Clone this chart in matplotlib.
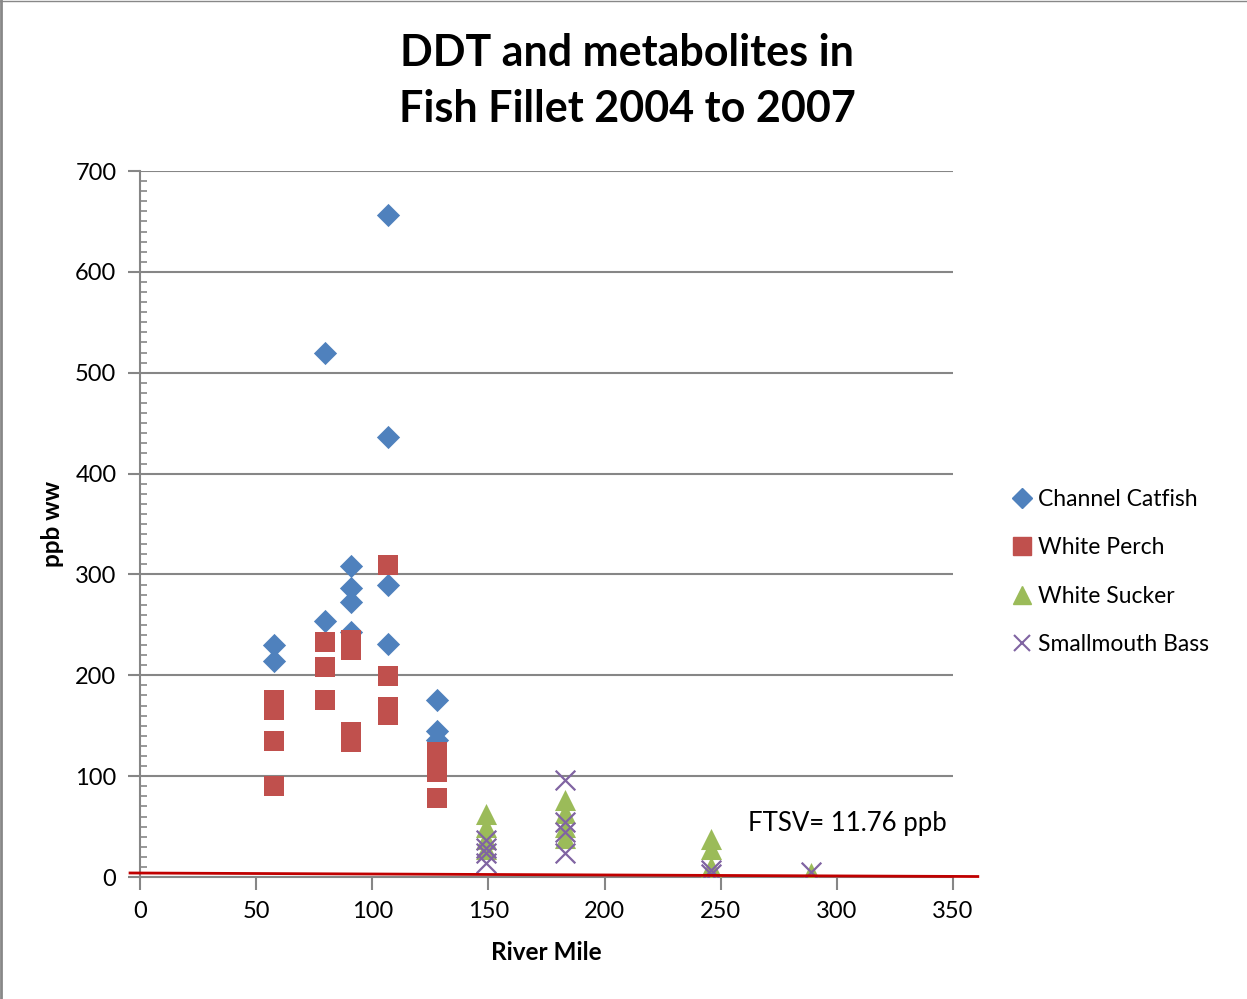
import matplotlib.pyplot as plt
from matplotlib.ticker import MultipleLocator
from matplotlib.lines import Line2D

plt.rcParams['font.family'] = ['Lato', 'DejaVu Sans']

# Channel Catfish
catfish_x = [57.7, 57.7, 79.6, 79.6, 90.8, 90.8, 90.8, 90.8, 106.8, 106.8, 106.8, 106.8,
             127.9, 127.9, 127.9]
catfish_y = [230, 214, 520, 254, 308, 287, 273, 243, 656, 436, 290, 231, 176, 145, 136]

# White Perch
perch_x = [57.7, 57.7, 57.7, 57.7, 79.6, 79.6, 79.6, 90.8, 90.8, 90.8, 90.8,
           106.8, 106.8, 106.8, 106.8, 127.9, 127.9, 127.9, 127.9]
perch_y = [176, 166, 135, 90, 233, 208, 176, 235, 225, 144, 134, 309, 199, 169, 161,
           124, 111, 104, 78]

# White Sucker
sucker_x = [149, 149, 149, 149, 183, 183, 183, 183, 245.8, 245.8, 245.8, 288.9]
sucker_y = [62, 50, 38, 28, 76, 63, 50, 39, 38, 28, 10, 4]

# Smallmouth Bass
bass_x = [149, 149, 149, 149, 183, 183, 183, 183, 245.8, 245.8, 288.9]
bass_y = [37, 29, 24, 14, 96, 55, 45, 24, 7, 3, 5]

# FTSV reference line (drawn shape in the original)
ftsv_x = [-4.3, 360.7]
ftsv_y = [4, 0.5]
ftsv_label = "FTSV= 11.76 ppb"

fig = plt.figure(figsize=(12.47, 9.99), dpi=100)
ax = fig.add_axes([0.1123, 0.1221, 0.6519, 0.7067])

grid_col = '#868686'
ax.scatter(catfish_x, catfish_y, marker='D', s=140, color='#4F81BD', linewidths=0, zorder=3)
ax.scatter(perch_x, perch_y, marker='s', s=210, color='#C0504D', linewidths=0, zorder=3)
ax.scatter(sucker_x, sucker_y, marker='^', s=230, color='#9BBB59', linewidths=0, zorder=3)
ax.scatter(bass_x, bass_y, marker='x', s=200, color='#8064A2', linewidths=1.6, zorder=4)

ax.plot(ftsv_x, ftsv_y, color='#C00000', lw=2, clip_on=False, zorder=5)
ax.text(304.6, 53, ftsv_label, fontsize=18.5, ha='center', va='center')

ax.set_xlim(0, 350)
ax.set_ylim(0, 700)
ax.xaxis.set_major_locator(MultipleLocator(50))
ax.yaxis.set_major_locator(MultipleLocator(100))
ax.yaxis.set_minor_locator(MultipleLocator(10))
ax.grid(axis='y', which='major', color=grid_col, lw=1.5, zorder=0)

for side in ['top', 'right']:
    ax.spines[side].set_visible(False)
for side in ['left', 'bottom']:
    ax.spines[side].set_color(grid_col)
    ax.spines[side].set_linewidth(1.5)

ax.tick_params(axis='both', which='major', labelsize=17, color=grid_col, width=1.5,
               length=9, direction='out', pad=8)
ax.tick_params(axis='y', which='minor', color=grid_col, width=1.2, length=5, direction='in')

ax.set_xlabel('River Mile', fontsize=17.5, fontweight='bold', labelpad=14)
ax.set_ylabel('ppb ww', fontsize=17.5, fontweight='bold', labelpad=8)

fig.text(0.503, 0.919, 'DDT and metabolites in\nFish Fillet 2004 to 2007', ha='center',
         va='center', fontsize=31, fontweight='bold', linespacing=1.5)

handles = [
    Line2D([], [], marker='D', ls='', color='#4F81BD', markersize=10, label='Channel Catfish'),
    Line2D([], [], marker='s', ls='', color='#C0504D', markersize=13, label='White Perch'),
    Line2D([], [], marker='^', ls='', color='#9BBB59', markersize=13, label='White Sucker'),
    Line2D([], [], marker='x', ls='', color='#8064A2', markersize=12, markeredgewidth=1.5,
           label='Smallmouth Bass'),
]
fig.legend(handles=handles, loc='upper left', bbox_to_anchor=(0.805, 0.52), frameon=False,
           fontsize=16.5, handlelength=0.8, handletextpad=0.3, labelspacing=1.2,
           borderaxespad=0)

# outer frame lines (left and top)
fig.add_artist(Line2D([0.001, 0.001], [0, 1], color='#888888', lw=2))
fig.add_artist(Line2D([0, 1], [0.999, 0.999], color='#888888', lw=1))

fig.savefig('out.png', dpi=100)
